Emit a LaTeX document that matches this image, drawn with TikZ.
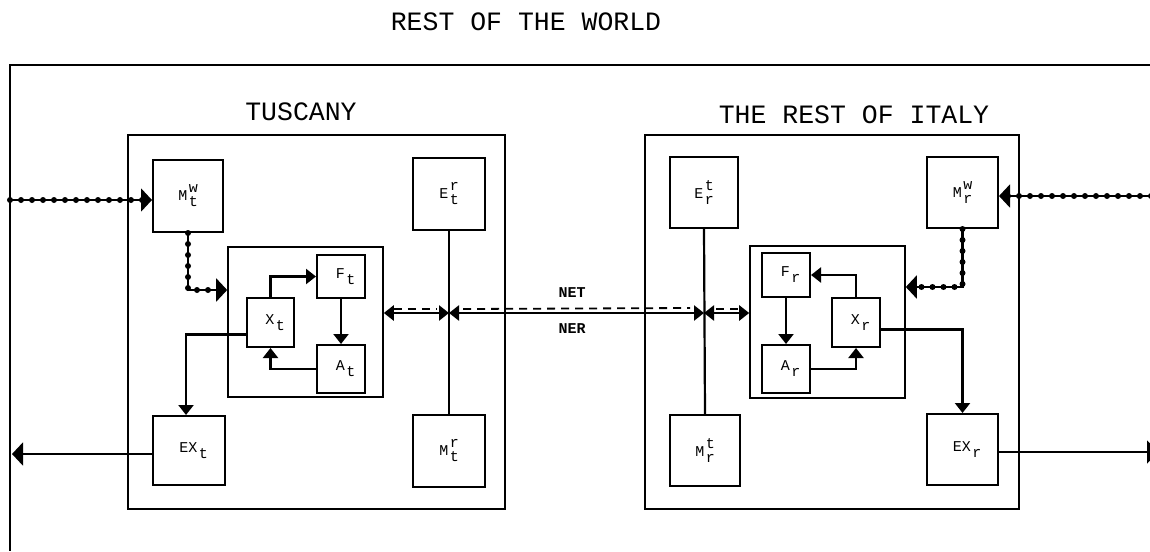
\documentclass[tikz,border=0pt]{standalone}
\usepackage{fontspec}
\setmonofont{Liberation Mono}
\usetikzlibrary{arrows.meta,calc}
\newcommand{\lbl}[3]{#1\kern1.5pt\raisebox{-6pt}{\rlap{#3}}\raisebox{8pt}{#2}}
\begin{document}
\begin{tikzpicture}[x=1pt,y=-1pt, line width=2.2pt,
  >={Triangle[length=10pt,width=15pt]},
  box/.style={draw, line width=2pt, inner sep=0pt, font=\ttfamily\fontsize{15}{15}\selectfont},
  frame/.style={draw, line width=2pt, inner sep=0pt},
  title/.style={font=\ttfamily\fontsize{26.5}{26.5}\selectfont},
  small/.style={font=\ttfamily\bfseries\fontsize{15}{15}\selectfont},
  tipbig/.style={-{Triangle[length=11pt,width=23pt]}},
  tip/.style={->},
  beads/.style={postaction={draw,-,line width=6pt,dash pattern=on 0pt off 11pt,line cap=round}},
  netdash/.style={draw, line width=1.8pt, dash pattern=on 8pt off 6pt}
]
\useasboundingbox (0,0) rectangle (1150,551);

% rest of the world
\node[title] (world) at (526,22) {REST OF THE WORLD};
\coordinate (wtr) at (1150,65);
\coordinate (wtl) at (10,65);
\coordinate (wbl) at (10,551);
\draw[line width=2pt] (wtr) -- (wtl) -- (wbl);

% regions
\node[frame, minimum width=377pt, minimum height=374pt] (tus) at (316.5,322) {};
\node[frame, minimum width=374pt, minimum height=374pt] (ita) at (832,322) {};
\node[title] (tusT) at (301,112) {TUSCANY};
\node[title] (itaT) at (854,115) {THE REST OF ITALY};

% Tuscany boxes
\node[box, minimum width=70pt, minimum height=72pt] (Mwt) at (188,196) {\lbl{M}{w}{t}};
\node[box, minimum width=72pt, minimum height=72pt] (Ert) at (449,194) {\lbl{E}{r}{t}};
\node[box, minimum width=72pt, minimum height=72pt] (Mrt) at (449,451) {\lbl{M}{r}{t}};
\node[box, minimum width=72pt, minimum height=69pt] (EXt) at (189,450.5) {\lbl{EX}{}{t}};
\node[box, line width=1.6pt, minimum width=155pt, minimum height=150pt] (inT) at (305.5,322) {};
\node[box, minimum width=48pt, minimum height=43pt] (Ft) at (341,276.5) {\lbl{F}{}{t}};
\node[box, minimum width=47pt, minimum height=49pt] (Xt) at (270.5,322.5) {\lbl{X}{}{t}};
\node[box, minimum width=48pt, minimum height=48pt] (At) at (341,369) {\lbl{A}{}{t}};

% Italy boxes
\node[box, minimum width=68pt, minimum height=71pt] (Etr) at (704,192.5) {\lbl{E}{t}{r}};
\node[box, minimum width=70pt, minimum height=71pt] (Mtr) at (705,450.5) {\lbl{M}{t}{r}};
\node[box, minimum width=71pt, minimum height=71pt] (Mwr) at (962.5,192.5) {\lbl{M}{w}{r}};
\node[box, minimum width=71pt, minimum height=71pt] (EXr) at (962.5,449.5) {\lbl{EX}{}{r}};
\node[box, line width=1.6pt, minimum width=155pt, minimum height=152pt] (inI) at (827.5,322) {};
\node[box, minimum width=48pt, minimum height=44pt] (Fr) at (786,275) {\lbl{F}{}{r}};
\node[box, minimum width=48pt, minimum height=49pt] (Xr) at (856,322.5) {\lbl{X}{}{r}};
\node[box, minimum width=48pt, minimum height=48pt] (Ar) at (786,369) {\lbl{A}{}{r}};

% world flows
\coordinate (inL) at (10,200);
\coordinate (outL) at (12,454);
\coordinate (inR) at (1162,196);
\coordinate (outR) at (1158,452);
\draw[tipbig, beads] (inL) -- (Mwt.west |- inL);
\draw[tipbig] (EXt.west |- outL) -- (outL);
\draw[tipbig, beads] (inR) -- (Mwr.east |- inR);
\draw[tipbig] (EXr.east |- outR) -- (outR);

% Tuscany internal
\draw[tipbig, beads] (Mwt.south) |- ([yshift=32pt]inT.west);
\draw[tip] (Xt.north) |- (Ft.west);
\draw[tip] (Ft.south) -- (At.north);
\draw[tip] (At.west) -| (Xt.south);
\draw[tip] ([yshift=-12pt]Xt.west) -| ([xshift=-3pt]EXt.north);
\draw[line width=2.6pt] (Ert.south) -- (Mrt.north);

% Italy internal
\draw[tipbig, beads] (Mwr.south) |- ([yshift=35pt]inI.east);
\draw[tip] (Xr.north) |- (Fr.east);
\draw[tip] (Fr.south) -- (Ar.north);
\draw[tip] (Ar.east) -| (Xr.south);
\draw[tip] ([yshift=-7pt]Xr.east) -| (EXr.north);
\draw[line width=2.2pt] (Etr.south) -- (Mtr.north);

% interregional flows
\coordinate (cT) at (Ert.south |- 0,313);
\coordinate (cI) at (Etr.south |- 0,313);
\draw[<->, line width=2.6pt] (inT.east |- cT) -- (cT);
\draw[<->, line width=2.6pt] (cT) -- (cI);
\draw[<->, line width=2.6pt] (cI) -- (inI.west |- cI);
\draw[netdash] ([xshift=10pt,yshift=4pt]inT.east |- cT) -- ([xshift=-12pt,yshift=4pt]cT);
\draw[netdash] ([xshift=14pt,yshift=4pt]cT) -- ([xshift=-14pt,yshift=5pt]cI);
\draw[netdash] ([xshift=12pt,yshift=4pt]cI) -- ([xshift=-10pt,yshift=4pt]inI.west |- cI);
\node[small] (net) at (572,293) {NET};
\node[small] (ner) at (572,329) {NER};
\end{tikzpicture}
\end{document}
